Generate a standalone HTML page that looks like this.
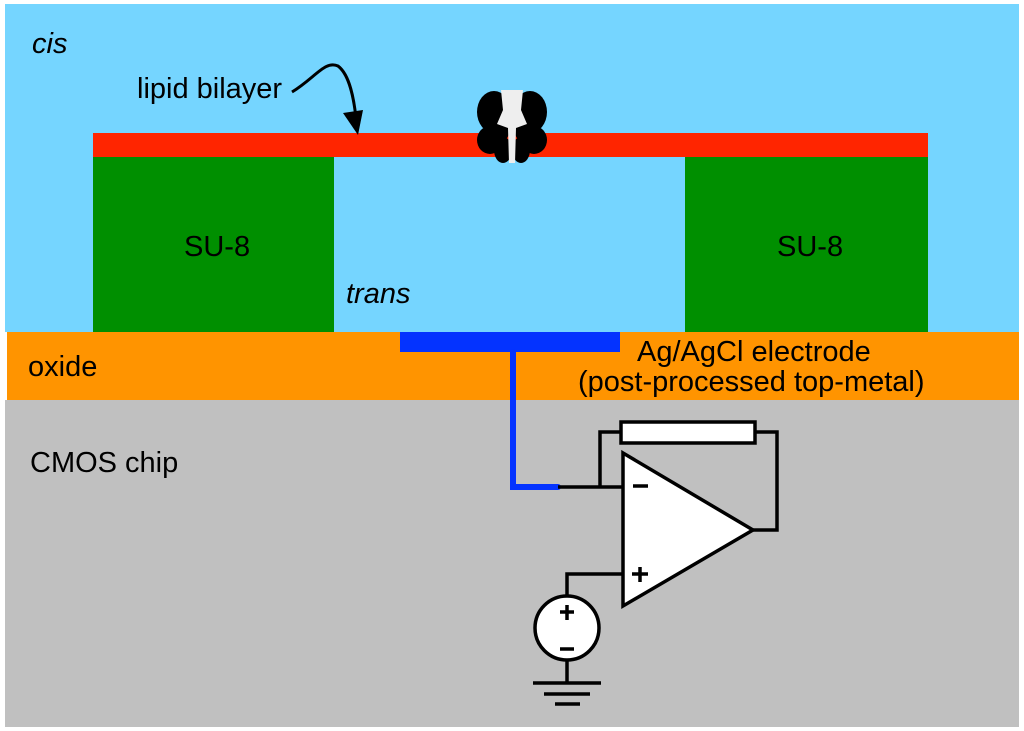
<!DOCTYPE html>
<html><head><style>body{margin:0;background:#fff}svg{display:block}text{font-family:"Liberation Sans",sans-serif;font-size:29px;fill:#000}</style></head><body>
<svg width="1024" height="731" viewBox="0 0 1024 731">
<rect x="0" y="0" width="1024" height="731" fill="#fff"/>
<rect x="5" y="4" width="1014" height="328" fill="#75d5ff"/>
<rect x="7" y="332" width="1012" height="68" fill="#ff9400"/>
<rect x="5" y="400" width="1014" height="327" fill="#c0c0c0"/>
<rect x="93" y="133" width="835" height="24" fill="#ff2500"/>
<rect x="93" y="157" width="241" height="175" fill="#008f00"/>
<rect x="685" y="157" width="243" height="175" fill="#008f00"/>
<rect x="400" y="332" width="220" height="20" fill="#0433ff"/>
<!-- pore -->
<g fill="#000">
<ellipse cx="494" cy="112" rx="17" ry="21"/><ellipse cx="490" cy="140" rx="13" ry="14"/><ellipse cx="503" cy="150" rx="9" ry="13"/><ellipse cx="499" cy="132" rx="10" ry="10"/>
<ellipse cx="530" cy="112" rx="17" ry="21"/><ellipse cx="534" cy="140" rx="13" ry="14"/><ellipse cx="521" cy="150" rx="9" ry="13"/><ellipse cx="525" cy="132" rx="10" ry="10"/>
</g>
<path d="M501 90 L523 90 L521 110 L527 124 L516 128 L515 163 L509 163 L508 128 L497 124 L503 110 Z" fill="#eee"/>
<!-- arrow -->
<path d="M292 92 C315 78 325 60 338 66 C350 75 354 100 356 118" fill="none" stroke="#000" stroke-width="3"/>
<path d="M343 113 L363 110 L358 135 Z" fill="#000"/>
<!-- wires -->
<path d="M513 352 V487 H558" fill="none" stroke="#0433ff" stroke-width="6" stroke-linecap="round"/>
<g fill="none" stroke="#000" stroke-width="3.5">
<path d="M558 487 H623 M600 487 V432 H621 M755 432 H777 V530 H753"/>
<rect x="621" y="422" width="134" height="21" fill="#fff"/>
<path d="M623 453 L753 530 L623 606 Z" fill="#fff"/>
<path d="M623 574 H567 V597 M567 660 V683 M533 683 H601 M544 694 H590 M555 704 H580"/>
<circle cx="567" cy="628" r="32" fill="#fff"/>
<path d="M633 486 H648 M640 567 V582 M632 574 H648 M567 605 V620 M560 612 H574 M560 649 H574"/>
</g>
<text x="32" y="53" font-style="italic">cis</text>
<text x="137" y="98">lipid bilayer</text>
<text x="184" y="256">SU-8</text>
<text x="777" y="256">SU-8</text>
<text x="346" y="303" font-style="italic">trans</text>
<text x="28" y="376">oxide</text>
<text x="637" y="361">Ag/AgCl electrode</text>
<text x="578" y="391">(post-processed top-metal)</text>
<text x="30" y="472">CMOS chip</text>
</svg>
</body></html>
